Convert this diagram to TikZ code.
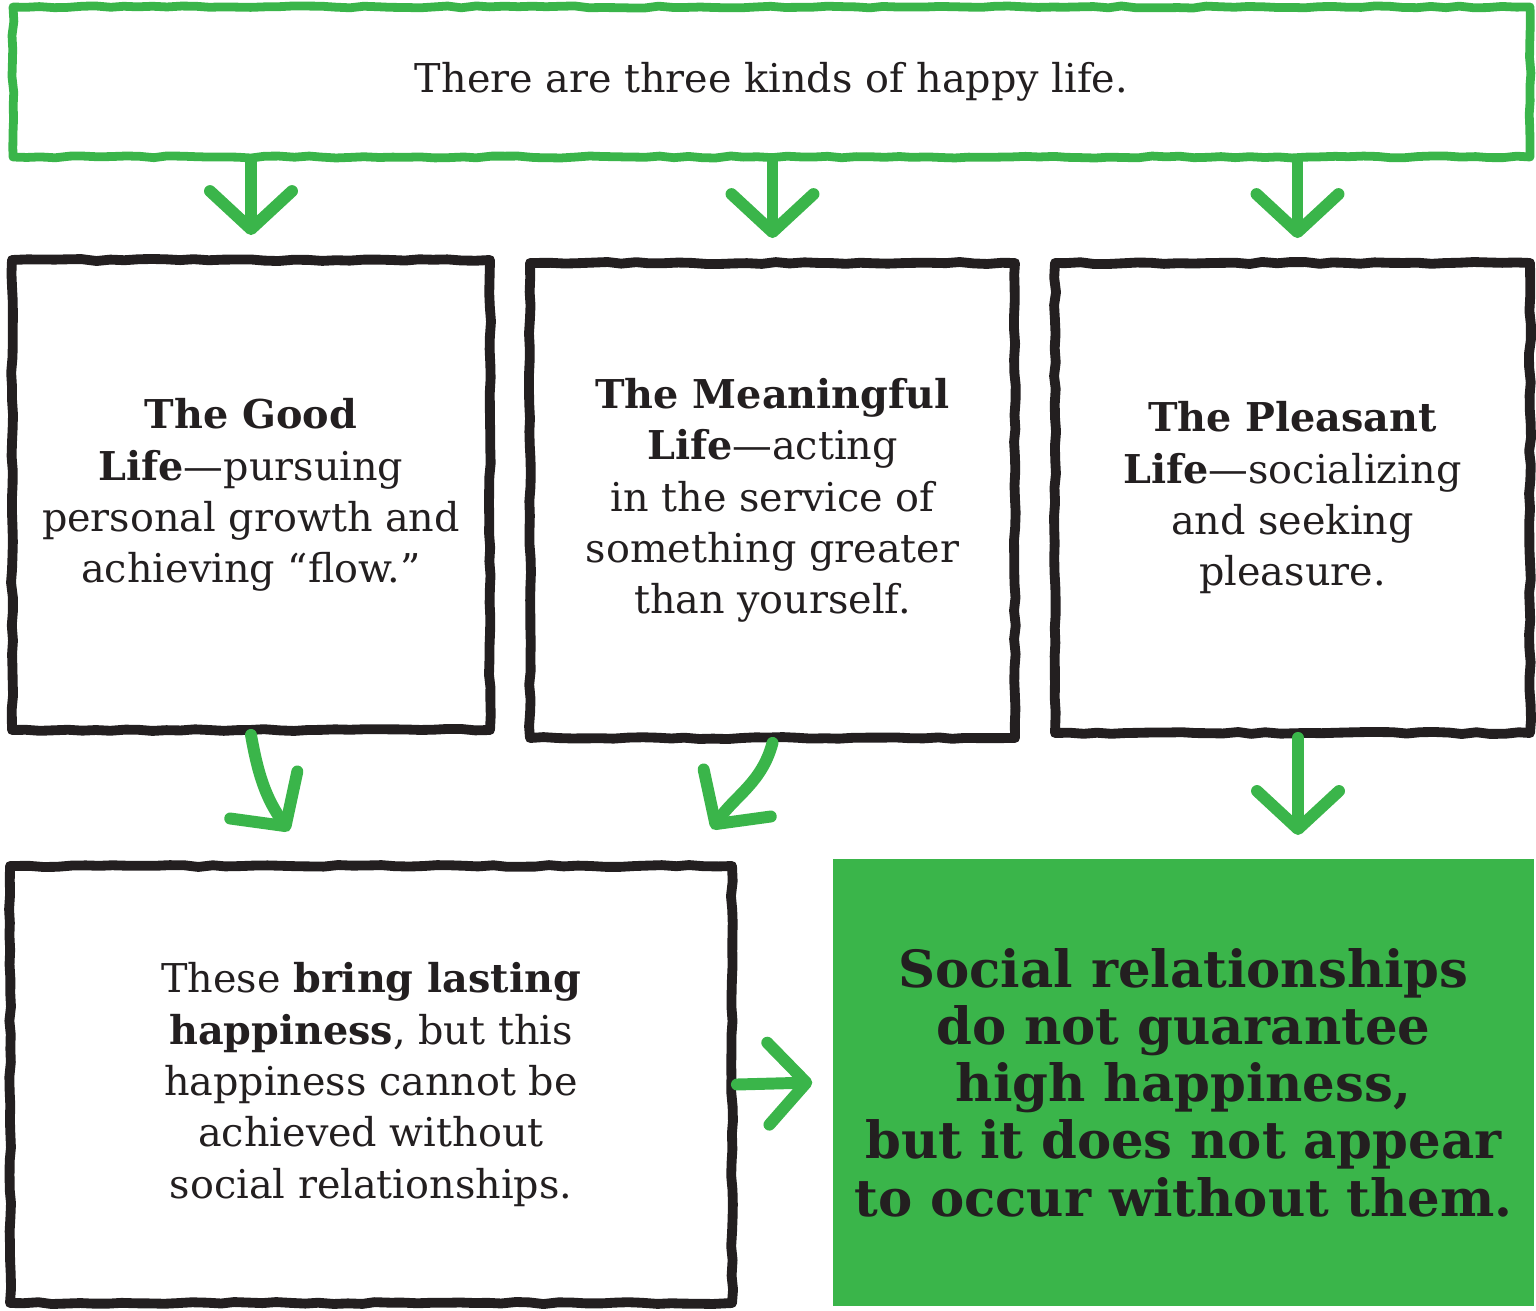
\documentclass[tikz,border=0pt]{standalone}
\usepackage{fontspec}
\setmainfont{DejaVu Serif}
\newfontfamily\heavyfont{DejaVu Serif}
\usetikzlibrary{arrows.meta,decorations.pathmorphing}

\definecolor{leafgreen}{HTML}{3AB54A}
\definecolor{inkblack}{HTML}{231F20}

\tikzset{
  sketchy/.style={decorate, decoration={random steps, segment length=4pt, amplitude=0.3pt}, line join=round},
  bodytext/.style={align=center, inner sep=0pt, text=inkblack, font=\fontsize{11.3}{14.6}\selectfont},
  inkbox/.style={bodytext, draw=inkblack, line width=2.8pt, sketchy},
  greenbox/.style={bodytext, draw=leafgreen, line width=2.5pt, sketchy},
  verdict/.style={fill=leafgreen, inner sep=0pt, align=center, text=inkblack, font=\heavyfont\bfseries\fontsize{14.6}{16.3}\selectfont},
  garrow/.style={draw=leafgreen, line width=3.4pt, line cap=round, -{Straight Barb[length=3.8mm, width=8.2mm, round]}}
}

\begin{document}
\begin{tikzpicture}
  \useasboundingbox (0,0) rectangle (15.36,-13.11);

  \node[greenbox, minimum width=15.17cm, minimum height=1.50cm] (kinds) at (7.715,-0.82) {There are three kinds of happy life.};

  \node[inkbox, minimum width=4.78cm, minimum height=4.70cm] (good) at (2.51,-4.95)
    {\textbf{The Good}\\\textbf{Life}---pursuing\\personal growth and\\achieving ``flow.''};
  \node[inkbox, minimum width=4.85cm, minimum height=4.75cm] (meaning) at (7.725,-5.005)
    {\textbf{The Meaningful}\\\textbf{Life}---acting\\in the service of\\something greater\\than yourself.};
  \node[inkbox, minimum width=4.75cm, minimum height=4.70cm] (pleasant) at (12.925,-4.98)
    {\textbf{The Pleasant}\\\textbf{Life}---socializing\\and seeking\\pleasure.};

  \node[inkbox, minimum width=7.22cm, minimum height=4.37cm] (these) at (3.71,-10.845)
    {These \textbf{bring lasting}\\\textbf{happiness}, but this\\happiness cannot be\\achieved without\\social relationships.};
  \node[verdict, minimum width=7.01cm, minimum height=4.47cm] (social) at (11.835,-10.825)
    {Social relationships\\do not guarantee\\high happiness,\\but it does not appear\\to occur without them.};

  \coordinate (goodtip) at (2.89,-8.31);
  \coordinate (meaningtip) at (7.12,-8.29);
  \coordinate (pleasanttip) at (12.98,-8.35);

  \draw[garrow] (kinds.south -| good.north) -- ([yshift=2mm]good.north);
  \draw[garrow] (kinds.south -| meaning.north) -- ([yshift=2mm]meaning.north);
  \draw[garrow] ([xshift=0.5mm]kinds.south -| pleasant.north) -- ([xshift=0.5mm, yshift=2mm]pleasant.north);

  \draw[garrow] (good.south) to[out=-80, in=125] (goodtip);
  \draw[garrow] (meaning.south) to[out=-105, in=55] (meaningtip);
  \draw[garrow] (pleasant.south -| pleasanttip) -- (pleasanttip);

  \draw[garrow] (these.east) -- ([xshift=-2mm]social.west);
\end{tikzpicture}
\end{document}
